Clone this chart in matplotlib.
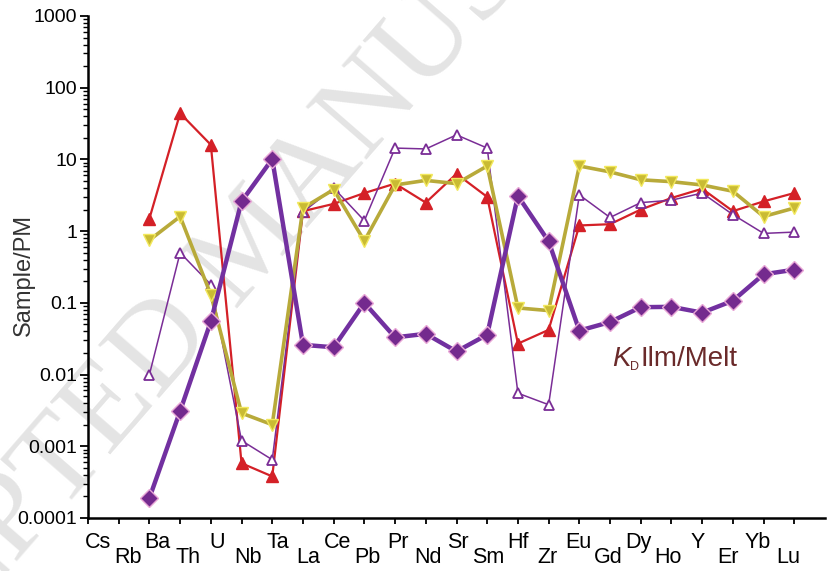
import numpy as np
import matplotlib
matplotlib.use('Agg')
import matplotlib.pyplot as plt
from matplotlib import transforms
from matplotlib.ticker import LogLocator, NullFormatter, FixedLocator

plt.rcParams['font.family'] = ['Liberation Sans', 'DejaVu Sans']

# element order on the x axis
elements = ['Cs', 'Rb', 'Ba', 'Th', 'U', 'Nb', 'Ta', 'La', 'Ce', 'Pb', 'Pr', 'Nd',
            'Sr', 'Sm', 'Hf', 'Zr', 'Eu', 'Gd', 'Dy', 'Ho', 'Y', 'Er', 'Yb', 'Lu']

nan = np.nan
# red filled triangles
red_tri = [nan, nan, 1.5, 44, 16, 0.00058, 0.00038, 1.9, 2.4, 3.4, 4.6, 2.5,
           6.3, 3.0, 0.027, 0.042, 1.2, 1.25, 2.0, 2.9, 3.9, 1.9, 2.6, 3.4]
# olive inverted triangles
olive_tri = [nan, nan, 0.75, 1.6, 0.13, 0.0029, 0.002, 2.1, 3.8, 0.73, 4.4, 5.1,
             4.6, 8.1, 0.085, 0.078, 8.1, 6.7, 5.2, 4.9, 4.4, 3.6, 1.6, 2.1]
# purple open triangles
open_tri = [nan, nan, 0.01, 0.5, 0.18, 0.0012, 0.00065, 1.85, 4.0, 1.4, 14.4, 14,
            22, 14.4, 0.0055, 0.0038, 3.2, 1.55, 2.5, 2.7, 3.4, 1.7, 0.93, 0.97]
# KD ilmenite/melt (diamonds)
kd_ilm = [nan, nan, 0.00019, 0.0031, 0.055, 2.6, 10.1, 0.026, 0.024, 0.1, 0.033, 0.037,
          0.021, 0.036, 3.1, 0.72, 0.041, 0.054, 0.087, 0.088, 0.073, 0.107, 0.25, 0.29]

x = np.arange(len(elements))

fig = plt.figure(figsize=(8.27, 5.71), dpi=100)
ax = fig.add_axes([88 / 827, 53 / 571, 737 / 827, 502 / 571])

# faint watermark behind everything
fig.text(0.308, 0.574, 'ACCEPTED MANUSCRIPT', family=['Liberation Serif', 'DejaVu Serif'],
         fontsize=88, color='#e4e4e4', rotation=49, rotation_mode='anchor',
         ha='center', va='center', zorder=-1)
ax.set_facecolor('none')

ax.plot(x, red_tri, color='#d42027', lw=1.6, marker='^', ms=8.5,
        mfc='#d42027', mec='#d42027', zorder=3)
ax.plot(x, open_tri, color='#7a2d96', lw=1.1, marker='^', ms=7,
        mfc='white', mec='#7a2d96', mew=1.3, zorder=3)
ax.plot(x, olive_tri, color='#b8aa3a', lw=2.6, marker='v', ms=8,
        mfc='#c9bb34', mec='#f2e85c', mew=1.0, zorder=4)
ax.plot(x, kd_ilm, color='#7230a0', lw=3.2, marker='D', ms=9.5,
        mfc='#742a8e', mec='#e8a6d6', mew=1.0, zorder=5)

ax.set_yscale('log')
ax.set_ylim(1e-4, 1e3)
ax.set_xlim(0, 24)

ax.yaxis.set_minor_locator(LogLocator(base=10, subs=np.arange(2, 10), numticks=20))
ax.yaxis.set_minor_formatter(NullFormatter())
ax.set_yticks([1e-4, 1e-3, 1e-2, 1e-1, 1, 10, 100, 1000])
ax.set_yticklabels(['0.0001', '0.001', '0.01', '0.1', '1', '10', '100', '1000'], fontsize=14)
ax.tick_params(axis='y', which='major', direction='out', length=6, width=1.3, pad=2)
ax.tick_params(axis='y', which='minor', direction='out', length=3.5, width=1.0)

ax.xaxis.set_major_locator(FixedLocator(x))
ax.set_xticklabels([])
ax.tick_params(axis='x', which='major', direction='out', length=4.5, width=1.3)

for s in ['top', 'right']:
    ax.spines[s].set_visible(False)
for s in ['left', 'bottom']:
    ax.spines[s].set_linewidth(1.8)

# staggered element labels
for i, el in enumerate(elements):
    dy = -30 if i % 2 == 0 else -45
    dx = 9.5 - 0.68 * i
    tr = transforms.offset_copy(ax.get_xaxis_transform(), fig=fig, x=dx, y=dy, units='dots')
    ax.text(i, 0, el, transform=tr, ha='center', va='baseline', fontsize=15.5, clip_on=False)

ax.set_ylabel('Sample/PM', fontsize=17, color='#333333', va='center')
ax.yaxis.set_label_coords(-0.087, 0.484)

kd_color = '#6a2a2a'
ax.text(0.711, 0.303, 'K', transform=ax.transAxes, fontsize=20, color=kd_color,
        fontstyle='italic', ha='left', va='baseline')
ax.text(0.735, 0.295, 'D', transform=ax.transAxes, fontsize=9, color=kd_color,
        ha='left', va='baseline')
ax.text(0.749, 0.303, 'Ilm/Melt', transform=ax.transAxes, fontsize=20, color=kd_color,
        ha='left', va='baseline')

fig.savefig('out.png', dpi=100)
